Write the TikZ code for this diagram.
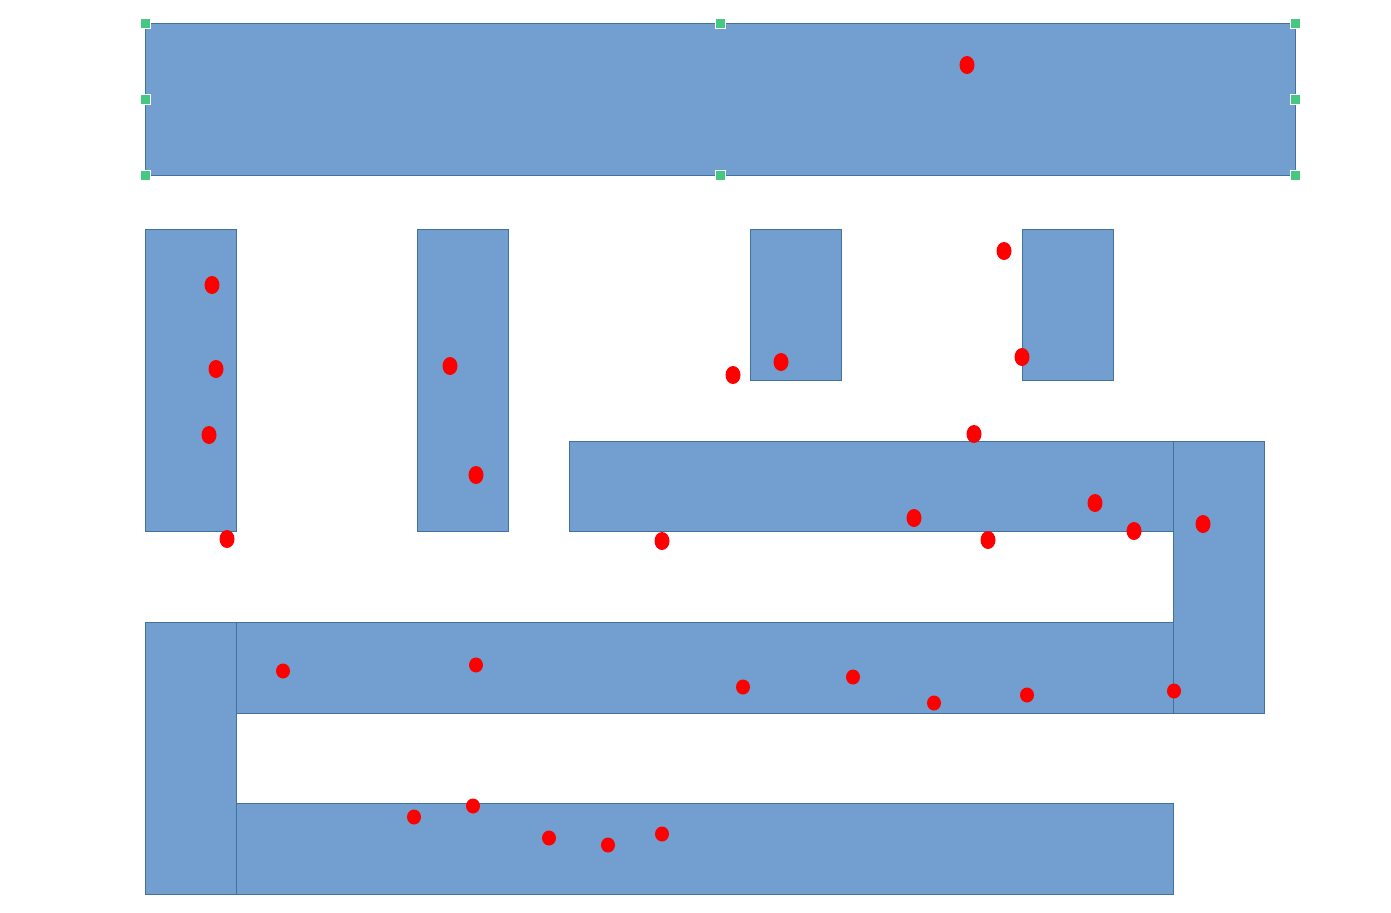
\documentclass[tikz,border=0pt]{standalone}
\usetikzlibrary{shapes.geometric}
\definecolor{boxfill}{RGB}{114,159,207}
\definecolor{boxline}{RGB}{65,113,156}
\definecolor{handle}{RGB}{70,200,130}
\definecolor{dotred}{RGB}{255,0,0}
\tikzset{
  blk/.style={fill=boxfill,draw=boxline,line width=0.5pt},
  hdl/.style={fill=handle,draw=white,line width=0.4pt,minimum size=5pt,inner sep=0pt,rectangle},
  rdot/.style={fill=dotred,draw=none,ellipse,inner sep=0pt,minimum width=7.5pt,minimum height=9pt},
}
\begin{document}
\begin{tikzpicture}[x=0.5pt,y=-0.5pt]
\useasboundingbox (0,0) rectangle (1391,912);
% blocks
\draw[blk] (145,23) rectangle (1295,175);
\draw[blk] (145,229) rectangle (236,531);
\draw[blk] (417,229) rectangle (508,531);
\draw[blk] (750,229) rectangle (841,380);
\draw[blk] (1022,229) rectangle (1113,380);
\draw[blk] (569,441) rectangle (1173,531);
\draw[blk] (1173,441) rectangle (1264,713);
\draw[blk] (145,622) rectangle (236,894);
\draw[blk] (236,622) rectangle (1173,713);
\draw[blk] (236,803) rectangle (1173,894);
% selection handles
\foreach \x/\y [count=\i] in {145/23,720/23,1295/23,145/99,1295/99,145/175,720/175,1295/175}
  \node[hdl] (h\i) at (\x,\y) {};
% red dots
\foreach \x/\y [count=\i] in {967/65,1004/251,212/285,216/369,209/435,227/539,450/366,476/475,733/375,781/362,1022/357,974/434,914/518,1095/503,1134/531,1203/524,988/540,662/541}
  \node[rdot] (d\i) at (\x,\y) {};
\foreach \x/\y [count=\i] in {283/671,476/665,743/687,853/677,934/703,1027/695,1174/691,414/817,473/806,549/838,608/845,662/834}
  \node[rdot,minimum width=7pt,minimum height=7.5pt] (e\i) at (\x,\y) {};
\end{tikzpicture}
\end{document}
